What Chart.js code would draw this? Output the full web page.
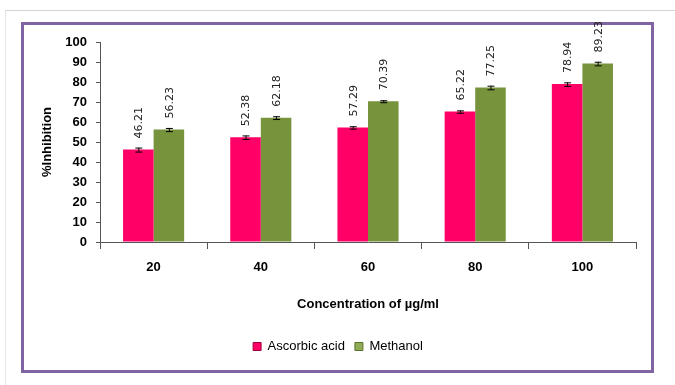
<!DOCTYPE html>
<html>
<head>
<meta charset="utf-8">
<script src="https://cdn.jsdelivr.net/npm/chart.js@4/dist/chart.umd.min.js"></script>
<style>
  body { margin: 0; background: #fff; }
  #wrap { position: relative; width: 675px; height: 385px; overflow: hidden; }
  #page { position: absolute; left: 5px; top: 10px; right: -2px; bottom: -2px;
          border-top: 1px solid #d4d4d4; border-left: 1px solid #e6e6e6; }
  #frame { position: absolute; left: 21px; top: 22px; width: 627px; height: 345px;
           border: 3px solid #8064a2; }
  #c { position: absolute; left: 0; top: 0; }
</style>
</head>
<body>
<div id="wrap">
  <div id="page"></div>
  <div id="frame"></div>
  <canvas id="c" width="675" height="385"></canvas>
</div>
<script>
const concentrations = ['20', '40', '60', '80', '100'];
const ascorbic = [46.21, 52.38, 57.29, 65.22, 78.94];
const methanol = [56.23, 62.18, 70.39, 77.25, 89.23];
const ascorbicErr = [1.0, 0.9, 0.6, 0.6, 0.9];
const methanolErr = [0.8, 0.7, 0.5, 0.9, 0.9];
const yTicks = [0, 10, 20, 30, 40, 50, 60, 70, 80, 90, 100];

const errs = [ascorbicErr, methanolErr];

// error bars + rotated value labels on top of every bar
const barExtras = {
    id: 'barExtras',
    afterDatasetsDraw(chart) {
        const c = chart.ctx;
        const y = chart.scales.y;
        chart.data.datasets.forEach(function (ds, di) {
            const meta = chart.getDatasetMeta(di);
            meta.data.forEach(function (bar, i) {
                const v = ds.data[i];
                const e = errs[di][i];
                const yt = y.getPixelForValue(v + e);
                const yb = y.getPixelForValue(v - e);
                c.save();
                c.strokeStyle = '#000';
                c.lineWidth = 1;
                c.beginPath();
                c.moveTo(bar.x + 0.5, yt); c.lineTo(bar.x + 0.5, yb);
                c.moveTo(bar.x - 3, yt + 0.5); c.lineTo(bar.x + 4, yt + 0.5);
                c.moveTo(bar.x - 3, yb + 0.5); c.lineTo(bar.x + 4, yb + 0.5);
                c.stroke();
                c.translate(bar.x + 1, y.getPixelForValue(v) - 11);
                c.rotate(-Math.PI / 2);
                c.font = '11px "DejaVu Sans"';
                c.fillStyle = '#222';
                c.textAlign = 'left';
                c.textBaseline = 'middle';
                c.fillText(v.toFixed(2), 0, 0);
                c.restore();
            });
        });
    }
};

// soft shading across each bar
function shade(base, dark) {
    return function (context) {
        const bar = context.element;
        if (!bar || bar.width === undefined) return base;
        const g = context.chart.ctx.createLinearGradient(bar.x - bar.width / 2, 0, bar.x + bar.width / 2, 0);
        g.addColorStop(0, dark);
        g.addColorStop(0.08, base);
        g.addColorStop(0.9, base);
        g.addColorStop(1, dark);
        return g;
    };
}

const font = '"Liberation Sans Narrow", "Liberation Sans", Arial';

new Chart(document.getElementById('c'), {
    type: 'bar',
    data: {
        labels: concentrations,
        datasets: [
            { label: 'Ascorbic acid', data: ascorbic, backgroundColor: shade('#ff0066', '#d0004f'),
              borderColor: '#c00050', borderWidth: 0 },
            { label: 'Methanol', data: methanol, backgroundColor: shade('#77933c', '#5c7429'),
              borderColor: '#5c7429', borderWidth: 0 }
        ]
    },
    options: {
        responsive: false,
        animation: false,
        layout: { padding: { left: 40, right: 39, top: 42, bottom: 22 } },
        datasets: { bar: { categoryPercentage: 0.57, barPercentage: 1.0 } },
        plugins: {
            tooltip: { enabled: false },
            legend: {
                position: 'bottom',
                labels: {
                    boxWidth: 8, boxHeight: 8, padding: 10, color: '#000',
                    font: { family: font, size: 13 },
                    generateLabels: function (chart) {
                        return [
                            { text: 'Ascorbic acid', fillStyle: '#ff0066', strokeStyle: '#a0003c', lineWidth: 1, datasetIndex: 0 },
                            { text: 'Methanol', fillStyle: '#8fab55', strokeStyle: '#5c7429', lineWidth: 1, datasetIndex: 1 }
                        ];
                    }
                }
            }
        },
        scales: {
            x: {
                grid: { drawOnChartArea: false, offset: true, tickLength: 7, color: '#555' },
                border: { color: '#555', width: 1 },
                ticks: { color: '#000', padding: 11, font: { family: font, size: 13, weight: 'bold' } },
                title: { display: true, text: 'Concentration of µg/ml', color: '#000',
                         padding: { top: 4, bottom: 18 },
                         font: { family: font, size: 13, weight: 'bold' } },
                afterFit: function (s) { s.height = 88; }
            },
            y: {
                min: 0, max: 100,
                afterBuildTicks: function (s) { s.ticks = yTicks.map(v => ({ value: v })); },
                grid: { drawOnChartArea: false, tickLength: 4, color: '#555' },
                border: { color: '#555', width: 1 },
                ticks: { color: '#000', padding: 9, font: { family: font, size: 13, weight: 'bold' } },
                title: { display: true, text: '%Inhibition', color: '#000', padding: 0,
                         font: { family: font, size: 13, weight: 'bold' } },
                afterFit: function (s) { s.width = 60; }
            }
        }
    },
    plugins: [barExtras]
});
</script>
</body>
</html>
